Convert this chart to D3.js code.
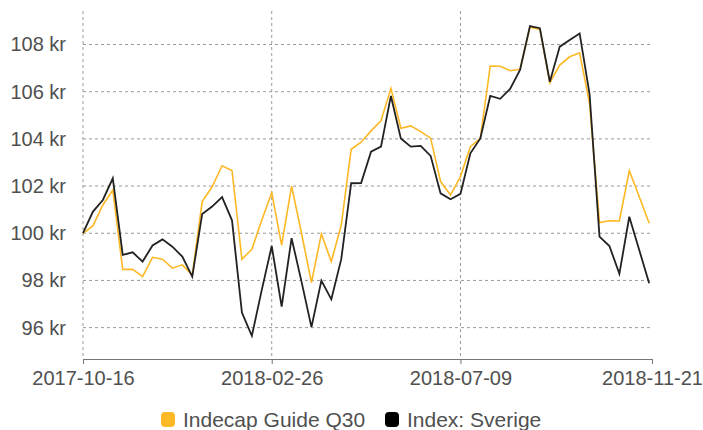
<!DOCTYPE html>
<html>
<head>
<meta charset="utf-8">
<script src="https://cdn.jsdelivr.net/npm/d3@7"></script>
<style>
  html, body { margin: 0; padding: 0; background: #fff; }
  svg { display: block; }
  text { font-family: "Liberation Sans", Arial, sans-serif; fill: #505050; }
</style>
</head>
<body>
<svg id="chart" width="703" height="430"></svg>
<script>
const dates = [
  "2017-10-16","2017-10-23","2017-10-30","2017-11-06","2017-11-13","2017-11-20","2017-11-27",
  "2017-12-04","2017-12-11","2017-12-18","2017-12-25","2018-01-01","2018-01-08","2018-01-15",
  "2018-01-22","2018-01-29","2018-02-05","2018-02-12","2018-02-19","2018-02-26","2018-03-05",
  "2018-03-12","2018-03-19","2018-03-26","2018-04-02","2018-04-09","2018-04-16","2018-04-23",
  "2018-04-30","2018-05-07","2018-05-14","2018-05-21","2018-05-28","2018-06-04","2018-06-11",
  "2018-06-18","2018-06-25","2018-07-02","2018-07-09","2018-07-16","2018-07-23","2018-07-30",
  "2018-08-06","2018-08-13","2018-08-20","2018-08-27","2018-09-03","2018-09-10","2018-09-17",
  "2018-09-24","2018-10-01","2018-10-08","2018-10-15","2018-10-22","2018-10-29","2018-11-05",
  "2018-11-12","2018-11-19"
];
const indecapQ30 = [
  100.0, 100.31, 101.2, 101.83, 98.47, 98.47, 98.16, 98.98, 98.9, 98.52, 98.66, 98.23,
  101.34, 101.97, 102.86, 102.66, 98.9, 99.32, 100.56, 101.72, 99.5, 102.0, 100.0, 97.91,
  99.97, 98.8, 100.35, 103.56, 103.86, 104.34, 104.77, 106.14, 104.45, 104.55, 104.31,
  104.03, 102.19, 101.62, 102.4, 103.67, 104.02, 107.09, 107.08, 106.89, 106.95, 108.73,
  108.64, 106.38, 107.13, 107.48, 107.65, 105.5, 100.45, 100.53, 100.52, 102.65, 101.55, 100.42
];
const indexSverige = [
  100.0, 100.92, 101.41, 102.33, 99.08, 99.19, 98.8, 99.48, 99.74, 99.43, 99.01, 98.16,
  100.82, 101.13, 101.53, 100.55, 96.64, 95.65, 97.6, 99.46, 96.89, 99.79, 97.95, 96.02,
  97.99, 97.2, 98.9, 102.12, 102.13, 103.46, 103.67, 105.82, 104.02, 103.67, 103.7,
  103.28, 101.69, 101.44, 101.67, 103.39, 104.02, 105.82, 105.7, 106.12, 106.92, 108.78,
  108.69, 106.42, 107.91, 108.19, 108.47, 105.9, 99.86, 99.46, 98.28, 100.7, 99.29, 97.88
];
const xTickLabels = ["2017-10-16", "2018-02-26", "2018-07-09", "2018-11-21"];
const yTicks = [96, 98, 100, 102, 104, 106, 108];
const seriesNames = ["Indecap Guide Q30", "Index: Sverige"];
const seriesColors = ["#FDB825", "#222222"];
const markerColors = ["#FDB825", "#000000"];

const parse = d3.timeParse("%Y-%m-%d");
const svg = d3.select("#chart");

const x = d3.scaleTime()
  .domain([parse(xTickLabels[0]), parse(xTickLabels[xTickLabels.length - 1])])
  .range([83, 652]);
const y = d3.scaleLinear().domain([94.67, 109.42]).range([359, 11]);

const fmtDate = d3.timeFormat("%Y-%m-%d");
const FONT = '"Liberation Sans", Arial, sans-serif';

// horizontal gridlines
svg.append("g").selectAll("line").data(yTicks).join("line")
  .attr("x1", 83).attr("x2", 652)
  .attr("y1", d => y(d)).attr("y2", d => y(d))
  .attr("stroke", "#9a9a9a").attr("stroke-width", 1)
  .attr("stroke-dasharray", "3,3");

// vertical gridlines
svg.append("g").selectAll("line").data(xTickLabels.slice(0, 3)).join("line")
  .attr("x1", d => x(parse(d))).attr("x2", d => x(parse(d)))
  .attr("y1", 11).attr("y2", 356)
  .attr("stroke", "#9a9a9a").attr("stroke-width", 1)
  .attr("stroke-dasharray", "3,3");

// y axis labels
const yAxis = d3.axisLeft(y).tickValues(yTicks).tickSize(0).tickPadding(17)
  .tickFormat(d => d + " kr");
svg.append("g").attr("transform", "translate(83,0)").call(yAxis)
  .call(g => g.select(".domain").remove())
  .call(g => g.selectAll("text").style("font-size", "20px").attr("fill", "#505050")
     .style("font-family", FONT));

// x axis
const xAxis = d3.axisBottom(x).tickValues(xTickLabels.map(parse))
  .tickFormat(fmtDate).tickSize(5).tickSizeOuter(0).tickPadding(7);
svg.append("g").attr("transform", "translate(0,359)").call(xAxis)
  .call(g => g.select(".domain").attr("stroke", "#777").attr("stroke-width", 1.2))
  .call(g => g.selectAll(".tick line").attr("stroke", "#777"))
  .call(g => g.selectAll("text").style("font-size", "20px").attr("fill", "#505050")
     .style("font-family", FONT));

// lines
const line = d3.line().x((d, i) => x(parse(dates[i]))).y(d => y(d));
[indecapQ30, indexSverige].forEach((s, k) => {
  svg.append("path").datum(s)
    .attr("d", line)
    .attr("fill", "none")
    .attr("stroke", seriesColors[k])
    .attr("stroke-width", k === 0 ? 1.6 : 1.8)
    .attr("stroke-linejoin", "miter");
});

// legend
const legendX = [161, 385];
const lg = svg.append("g");
seriesNames.forEach((n, k) => {
  lg.append("rect").attr("x", legendX[k]).attr("y", 412).attr("width", 14).attr("height", 15)
    .attr("rx", 4).attr("fill", markerColors[k]);
  lg.append("text").attr("x", legendX[k] + 22).attr("y", 427)
    .style("font-size", "21px").style("font-family", FONT).text(n);
});
</script>
</body>
</html>
